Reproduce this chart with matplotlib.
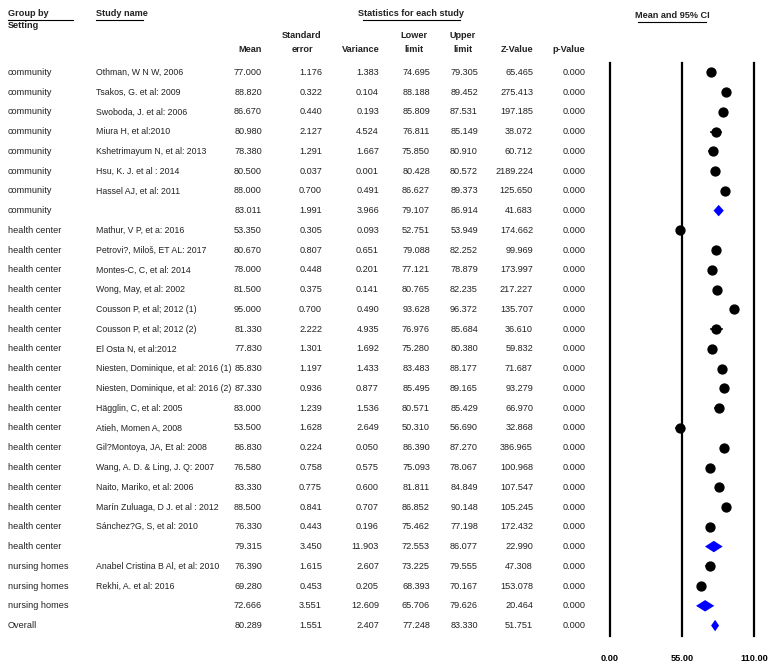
import matplotlib

matplotlib.use("Agg")

import matplotlib.pyplot as plt
from matplotlib import font_manager

# ---- data ------------------------------------------------------------------
groups = (["community"] * 8 + ["health center"] * 17 + ["nursing homes"] * 3
          + ["Overall"])
studies = [
    "Othman, W N W, 2006", "Tsakos, G. et al: 2009", "Swoboda, J. et al: 2006",
    "Miura H, et al:2010", "Kshetrimayum N, et al: 2013", "Hsu, K. J. et al : 2014",
    "Hassel AJ, et al: 2011", "",
    "Mathur, V P, et a: 2016", "Petrovi?, Miloš, ET AL: 2017", "Montes-C, C, et al: 2014",
    "Wong, May, et al: 2002", "Cousson P, et al; 2012 (1)", "Cousson P, et al; 2012 (2)",
    "El Osta N, et al:2012", "Niesten, Dominique, et al: 2016 (1)",
    "Niesten, Dominique, et al: 2016 (2)", "Hägglin, C, et al: 2005",
    "Atieh, Momen A, 2008", "Gil?Montoya, JA, Et al: 2008",
    "Wang, A. D. & Ling, J. Q: 2007", "Naito, Mariko, et al: 2006",
    "Marín Zuluaga, D J. et al : 2012", "Sánchez?G, S, et al: 2010", "",
    "Anabel Cristina B Al, et al: 2010", "Rekhi, A. et al: 2016", "",
    "",
]
mean = [77.000, 88.820, 86.670, 80.980, 78.380, 80.500, 88.000, 83.011,
        53.350, 80.670, 78.000, 81.500, 95.000, 81.330, 77.830, 85.830, 87.330,
        83.000, 53.500, 86.830, 76.580, 83.330, 88.500, 76.330, 79.315,
        76.390, 69.280, 72.666, 80.289]
std_err = [1.176, 0.322, 0.440, 2.127, 1.291, 0.037, 0.700, 1.991,
           0.305, 0.807, 0.448, 0.375, 0.700, 2.222, 1.301, 1.197, 0.936,
           1.239, 1.628, 0.224, 0.758, 0.775, 0.841, 0.443, 3.450,
           1.615, 0.453, 3.551, 1.551]
variance = [1.383, 0.104, 0.193, 4.524, 1.667, 0.001, 0.491, 3.966,
            0.093, 0.651, 0.201, 0.141, 0.490, 4.935, 1.692, 1.433, 0.877,
            1.536, 2.649, 0.050, 0.575, 0.600, 0.707, 0.196, 11.903,
            2.607, 0.205, 12.609, 2.407]
lower = [74.695, 88.188, 85.809, 76.811, 75.850, 80.428, 86.627, 79.107,
         52.751, 79.088, 77.121, 80.765, 93.628, 76.976, 75.280, 83.483, 85.495,
         80.571, 50.310, 86.390, 75.093, 81.811, 86.852, 75.462, 72.553,
         73.225, 68.393, 65.706, 77.248]
upper = [79.305, 89.452, 87.531, 85.149, 80.910, 80.572, 89.373, 86.914,
         53.949, 82.252, 78.879, 82.235, 96.372, 85.684, 80.380, 88.177, 89.165,
         85.429, 56.690, 87.270, 78.067, 84.849, 90.148, 77.198, 86.077,
         79.555, 70.167, 79.626, 83.330]
z_value = [65.465, 275.413, 197.185, 38.072, 60.712, 2189.224, 125.650, 41.683,
           174.662, 99.969, 173.997, 217.227, 135.707, 36.610, 59.832, 71.687,
           93.279, 66.970, 32.868, 386.965, 100.968, 107.547, 105.245, 172.432,
           22.990, 47.308, 153.078, 20.464, 51.751]
p_value = [0.0] * 29
axis_ticks = [0.0, 55.0, 110.0]

# ---- layout (pixels) --------------------------------------------------------
W, H = 774, 668
ROW0, ROWH = 72.3, 19.76
PLOT_L, PLOT_R, PLOT_T, PLOT_B = 610, 754, 63.3, 635.7

names = {f.name for f in font_manager.fontManager.ttflist}
if "Liberation Sans Narrow" in names:
    FONT, FS, FS_NAME = "Liberation Sans Narrow", 7.6, 7.6
else:
    FONT, FS, FS_NAME = "Liberation Sans", 6.6, 6.3
plt.rcParams["font.family"] = [FONT, "DejaVu Sans"]

fig = plt.figure(figsize=(W / 100, H / 100), dpi=100)
tab = fig.add_axes([0, 0, 1, 1])
tab.set_xlim(0, W)
tab.set_ylim(H, 0)
tab.axis("off")

txt = dict(fontsize=FS, color="#222222", va="center")
hdr = dict(fontsize=FS, fontweight="bold", color="#222222", va="center")

# headers
tab.text(8, 13, "Group by", ha="left", **hdr)
tab.text(8, 26, "Setting", ha="left", **hdr)
tab.plot([8, 73], [20, 20], color="black", lw=0.8)
tab.text(96, 13, "Study name", ha="left", **hdr)
tab.plot([96, 143], [20, 20], color="black", lw=0.8)
tab.text(411, 13, "Statistics for each study", ha="center", **hdr)
tab.plot([363, 460], [20, 20], color="black", lw=0.8)
tab.text(672, 15, "Mean and 95% CI", ha="center", **hdr)
tab.plot([638, 706], [22, 22], color="black", lw=0.8)

columns = [
    (mean, 262, 250, "Mean"),
    (std_err, 322, 302, "Standard\nerror"),
    (variance, 379, 361, "Variance"),
    (lower, 430, 414, "Lower\nlimit"),
    (upper, 478, 463, "Upper\nlimit"),
    (z_value, 533, 517, "Z-Value"),
    (p_value, 586, 569, "p-Value"),
]
for values, right, center, title in columns:
    lines = title.split("\n")
    if len(lines) == 2:
        tab.text(center, 35, lines[0], ha="center", **hdr)
    tab.text(center, 50, lines[-1], ha="center", **hdr)
    for i, v in enumerate(values):
        tab.text(right, ROW0 + i * ROWH, f"{v:.3f}", ha="right", **txt)

for i, (g, s) in enumerate(zip(groups, studies)):
    y = ROW0 + i * ROWH
    tab.text(8, y, g, ha="left", **txt)
    if s:
        tab.text(96, y, s, ha="left", fontsize=FS_NAME, color="#222222",
                 va="center")

# ---- forest plot ------------------------------------------------------------
ax = fig.add_axes([PLOT_L / W, 1 - PLOT_B / H, (PLOT_R - PLOT_L) / W,
                   (PLOT_B - PLOT_T) / H])
ax.set_xlim(axis_ticks[0], axis_ticks[-1])
ax.set_ylim((PLOT_B - ROW0) / ROWH, (PLOT_T - ROW0) / ROWH)
for s in ax.spines.values():
    s.set_visible(False)
ax.set_yticks([])
ax.set_xticks(axis_ticks, labels=[f"{t:.2f}" for t in axis_ticks])
ax.tick_params(axis="x", length=0, pad=13, labelsize=FS)
for lab in ax.get_xticklabels():
    lab.set_fontweight("bold")
for t in axis_ticks:
    ax.axvline(t, color="black", lw=1.6, clip_on=False)

half_h = 0.29
for i, (s, m, lo, hi) in enumerate(zip(studies, mean, lower, upper)):
    if s:
        ax.plot([lo, hi], [i, i], color="black", lw=1.2)
        ax.plot(m, i, "o", color="black", ms=6.4, clip_on=False)
    else:
        ax.fill([lo, m, hi, m], [i, i - half_h, i, i + half_h],
                color="#0000ff", lw=0, clip_on=False)

fig.savefig("out.png", dpi=100)
